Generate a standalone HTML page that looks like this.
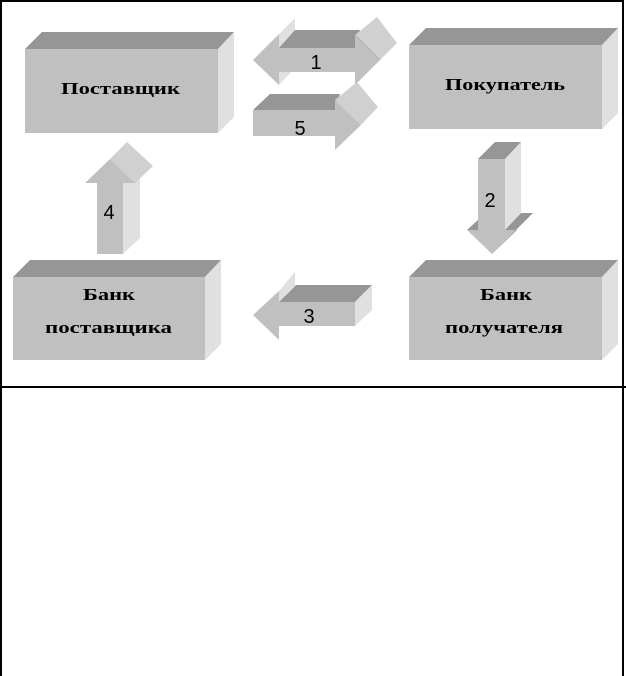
<!DOCTYPE html>
<html><head><meta charset="utf-8"><style>
html,body{margin:0;padding:0;background:#fff;}
svg{display:block}
.bt{font-family:"Liberation Serif","DejaVu Serif",serif;font-weight:bold;font-size:17px;fill:#000}
.n{font-family:"Liberation Sans","DejaVu Sans",sans-serif;font-size:20px;fill:#000;text-anchor:middle}
</style></head><body>
<svg width="626" height="676" viewBox="0 0 626 676" xmlns="http://www.w3.org/2000/svg">
<rect width="626" height="676" fill="#fff"/>
<rect x="1" y="1" width="622" height="676" fill="none" stroke="#000" stroke-width="2"/>
<line x1="0" y1="387" x2="626" y2="387" stroke="#000" stroke-width="2"/>

<polygon points="25,49 42,32 234,32 218,49" fill="#969696"/>
<polygon points="218,49 234,32 234,117 218,133" fill="#e0e0e0"/>
<rect x="25" y="49" width="193" height="84" fill="#c0c0c0"/>
<text class="bt" x="61" y="94" textLength="119" lengthAdjust="spacingAndGlyphs">Поставщик</text>

<polygon points="409,45 426,28 618,28 602,45" fill="#969696"/>
<polygon points="602,45 618,28 618,113 602,129" fill="#e0e0e0"/>
<rect x="409" y="45" width="193" height="84" fill="#c0c0c0"/>
<text class="bt" x="445" y="90" textLength="120" lengthAdjust="spacingAndGlyphs">Покупатель</text>

<polygon points="13,277 30,260 221,260 205,277" fill="#969696"/>
<polygon points="205,277 221,260 221,344 205,360" fill="#e0e0e0"/>
<rect x="13" y="277" width="192" height="83" fill="#c0c0c0"/>
<text class="bt" x="83" y="300" textLength="52" lengthAdjust="spacingAndGlyphs">Банк</text>
<text class="bt" x="45" y="333" textLength="127" lengthAdjust="spacingAndGlyphs">поставщика</text>

<polygon points="409,277 426,260 618,260 602,277" fill="#969696"/>
<polygon points="602,277 618,260 618,344 602,360" fill="#e0e0e0"/>
<rect x="409" y="277" width="193" height="83" fill="#c0c0c0"/>
<text class="bt" x="480" y="300" textLength="52" lengthAdjust="spacingAndGlyphs">Банк</text>
<text class="bt" x="445" y="333" textLength="118" lengthAdjust="spacingAndGlyphs">получателя</text>

<polygon points="279,34 295,18 295,68 279,85" fill="#e0e0e0"/>
<polygon points="279,48 295,30 360,30 355,48" fill="#969696"/>
<polygon points="253,60 279,34 279,48 355,48 355,35 380,60 355,85 355,72 279,72 279,85" fill="#c0c0c0"/>
<polygon points="355,35 377,17 397,43 380,60" fill="#d0d0d0"/>
<line x1="355" y1="35" x2="380" y2="60" stroke="#b0b0b0"/>
<text class="n" x="316" y="69">1</text>

<polygon points="253,110 270,94 340,94 335,110" fill="#969696"/>
<polygon points="253,110 335,110 335,100 361,125 335,150 335,136 253,136" fill="#c0c0c0"/>
<polygon points="335,100 357,82 378,107 361,125" fill="#d0d0d0"/>
<text class="n" x="300" y="135">5</text>

<polygon points="123,183 140,166 140,238 123,254" fill="#e0e0e0"/>
<polygon points="97,254 97,183 85,183 110,159 135,183 123,183 123,254" fill="#c0c0c0"/>
<polygon points="110,159 127,142 153,166 135,183" fill="#d0d0d0"/>
<text class="n" x="109" y="219">4</text>

<polygon points="478,159 495,142 521,142 505,159" fill="#969696"/>
<polygon points="505,159 521,142 521,213 505,230" fill="#e0e0e0"/>
<polygon points="478,159 505,159 505,230 517,230 492,254 467,230 478,230" fill="#c0c0c0"/>
<polygon points="467,230 478,220 478,230" fill="#969696"/>
<polygon points="505,230 521,213 533,213 492,254 517,230" fill="#969696"/>
<text class="n" x="490" y="207">2</text>

<polygon points="279,291 295,272 295,285 279,302" fill="#e0e0e0"/>
<polygon points="279,302 296,285 372,285 355,302" fill="#969696"/>
<polygon points="355,302 372,285 372,310 355,326" fill="#e0e0e0"/>
<polygon points="253,315 279,291 279,302 355,302 355,326 279,326 279,340" fill="#c0c0c0"/>
<text class="n" x="309" y="323">3</text>
</svg>
</body></html>
